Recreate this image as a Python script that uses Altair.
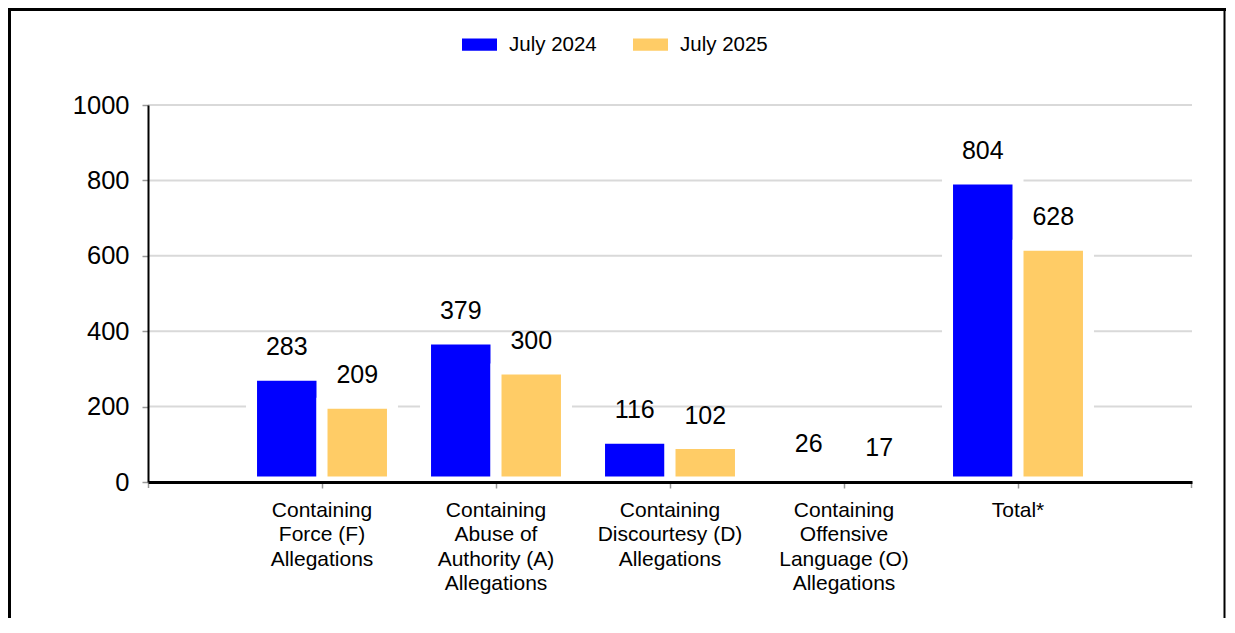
import altair as alt
import pandas as pd

categories = [
    "Containing\nForce (F)\nAllegations",
    "Containing\nAbuse of\nAuthority (A)\nAllegations",
    "Containing\nDiscourtesy (D)\nAllegations",
    "Containing\nOffensive\nLanguage (O)\nAllegations",
    "Total*",
]
series = ["July 2024", "July 2025"]
july_2024 = [283, 379, 116, 26, 804]
july_2025 = [209, 300, 102, 17, 628]
colors = ["#0000FF", "#FFCC66"]
grid_values = [200, 400, 600, 800, 1000]
y_ticks = [0, 200, 400, 600, 800, 1000]

rows = []
for c, a, b in zip(categories, july_2024, july_2025):
    rows.append({"category": c, "series": series[0], "value": a})
    rows.append({"category": c, "series": series[1], "value": b})
df = pd.DataFrame(rows)
grid_df = pd.DataFrame({"value": grid_values})
one = pd.DataFrame({"k": [0]})

W, H = 1044, 377
FONT = "Liberation Sans"

x_scale = alt.Scale(domain=categories, paddingInner=0.19, paddingOuter=0.595)
y_scale = alt.Scale(domain=[0, 1000], nice=False)
xo_scale = alt.Scale(domain=series, paddingInner=0, paddingOuter=0)

x_axis = alt.Axis(
    title=None, labelAngle=0, labelExpr="split(datum.label, '\\n')",
    labelFontSize=21, labelFont=FONT, labelColor="black", labelLineHeight=24.5,
    labelPadding=11, tickColor="#999999", tickSize=6, tickWidth=1.5,
    domainColor="black", domainWidth=3, bandPosition=0.5, zindex=1, labelLimit=300,
)
y_axis = alt.Axis(
    title=None, values=y_ticks, format="d", grid=False, labelFontSize=25.5, labelFont=FONT,
    labelColor="black", labelPadding=13, tickColor="#999999", tickSize=6,
    tickWidth=1.5, domainColor="black", domainWidth=2, zindex=1,
)

x_enc = alt.X("category:N", sort=categories, scale=x_scale, axis=x_axis)
xo_enc = alt.XOffset("series:N", sort=series, scale=xo_scale)
y_enc = alt.Y("value:Q", scale=y_scale, axis=y_axis)

grid = alt.Chart(grid_df).mark_rule(color="#D9D9D9", strokeWidth=2).encode(y=y_enc)

bars = alt.Chart(df).mark_bar(stroke="white", strokeWidth=11).encode(
    x=x_enc,
    xOffset=xo_enc,
    y=y_enc,
    color=alt.Color(
        "series:N", sort=series, scale=alt.Scale(domain=series, range=colors),
        legend=alt.Legend(
            title=None, orient="none", legendX=314, legendY=-78, direction="horizontal",
            symbolType="M-1,-0.35L1,-0.35L1,0.35L-1,0.35Z", symbolSize=1225,
            symbolStrokeWidth=0, labelFontSize=20.5, labelFont=FONT, labelColor="black",
            labelOffset=12, columnPadding=36, padding=0,
        ),
    ),
)

text = alt.Chart(df).mark_text(
    fontSize=25, font=FONT, baseline="alphabetic", dy=-20, color="black"
).encode(x=x_enc, xOffset=xo_enc, y=y_enc, text="value:Q")

end_ticks = [
    alt.Chart(one).mark_rule(color="#999999", strokeWidth=1.5).encode(
        x=alt.value(xv), y=alt.value(H), y2=alt.value(H + 6))
    for xv in (0.5, W - 0.5)
]

frame = [
    alt.Chart(one).mark_rule(color="black", strokeWidth=3).encode(
        x=alt.value(-138.5), y=alt.value(-96), y2=alt.value(H + 140)),
    alt.Chart(one).mark_rule(color="black", strokeWidth=3).encode(
        x=alt.value(-140), x2=alt.value(1078), y=alt.value(-95.5)),
    alt.Chart(one).mark_rule(color="black", strokeWidth=2).encode(
        x=alt.value(1076.5), y=alt.value(-96), y2=alt.value(H + 140)),
]

chart = alt.layer(grid, bars, text, *end_ticks, *frame).properties(
    width=W, height=H,
    padding={"left": 140, "top": 97, "right": 35, "bottom": 136},
    autosize=alt.AutoSizeParams(type="none"),
).configure_view(strokeWidth=0)

chart.save("out.html", embed_options={"renderer": "svg", "actions": False})
